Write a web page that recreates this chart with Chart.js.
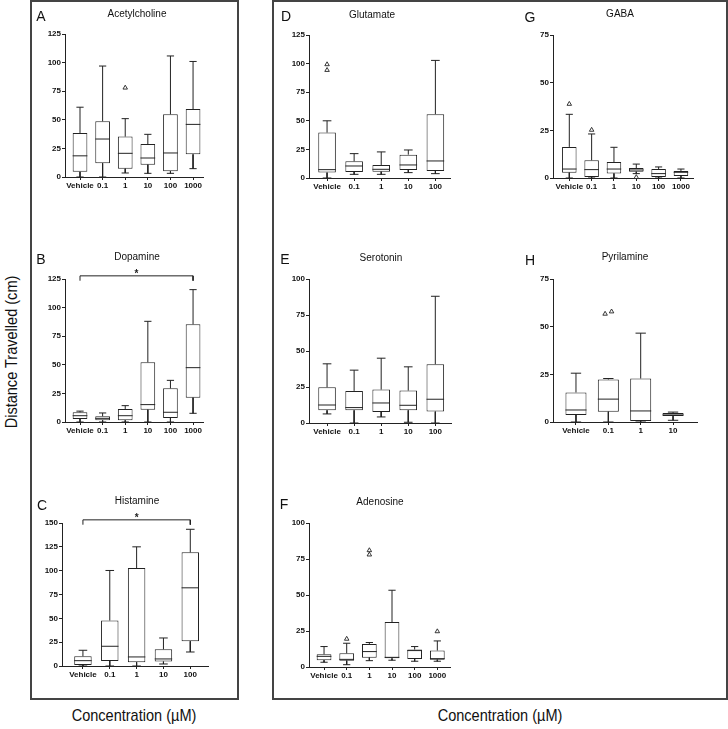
<!DOCTYPE html>
<html>
<head>
<meta charset="utf-8">
<style>
  body { margin: 0; background: #fff; width: 728px; height: 729px; position: relative; overflow: hidden;
         font-family: "Liberation Sans", Arial, sans-serif; color: #111; }
  .frame { position: absolute; border: 2px solid #444; box-sizing: border-box; }
  .lbl { position: absolute; transform: translate(-50%, -50%); white-space: nowrap; }
  .letter { font-size: 14px; }
  .title { font-size: 10px; }
  .big { font-size: 17px; }
  canvas { position: absolute; }
</style>
<script src="https://cdn.jsdelivr.net/npm/chart.js"></script>
</head>
<body>

<div class="frame" style="left:30px; top:0; width:209px; height:700px;"></div>
<div class="frame" style="left:272px; top:0; width:456px; height:700px;"></div>

<!-- narrow look: the condensed face is not installed, so squeeze a little -->
<div class="lbl big" style="left:134px; top:716px; transform: translate(-50%, -50%) scaleX(0.855);">Concentration (µM)</div>
<div class="lbl big" style="left:500px; top:716px; transform: translate(-50%, -50%) scaleX(0.855);">Concentration (µM)</div>
<div class="lbl big" style="left:12px; top:352px; transform: translate(-50%, -50%) rotate(-90deg) scaleX(0.855);">Distance Travelled (cm)</div>

<script>
// categories
const cats6 = ['Vehicle', '0.1', '1', '10', '100', '1000'];
const cats5 = ['Vehicle', '0.1', '1', '10', '100'];
const cats4 = ['Vehicle', '0.1', '1', '10'];

// A - Acetylcholine
const aMin = [0, 0, 3.5, 3.2, 3.2, 7.3];
const aQ1  = [4.5, 12, 7.3, 10.8, 5, 19.8];
const aMed = [18.5, 33.2, 20.7, 16.6, 21, 46];
const aQ3  = [38.5, 48.7, 35.3, 28.8, 54.8, 59.4];
const aMax = [61, 97, 51, 37.3, 105.8, 101];
const aOut = [[], [], [78], [], [], []];

// B - Dopamine
const bMin = [0, 0, 0, 0, 0, 7.6];
const bQ1  = [2.6, 1.5, 1.5, 10.8, 3.5, 21.3];
const bMed = [5.5, 3.2, 5.5, 15.2, 8.5, 47.5];
const bQ3  = [8.5, 5, 11.4, 52.2, 29.4, 85.4];
const bMax = [9.5, 7.9, 14.3, 88, 36.4, 115.7];
const bOut = [[], [], [], [], [], []];

// C - Histamine
const cMin = [0, 0, 0, 2.1, 14.7];
const cQ1  = [1, 5.3, 3.9, 4.6, 26];
const cMed = [5.6, 20.7, 9.5, 7.4, 82];
const cQ3  = [10.2, 47.7, 102.7, 17.5, 119.2];
const cMax = [16.5, 100.2, 125, 29.4, 143.4];
const cOut = [[], [], [], [], []];

// D - Glutamate
const dMin = [0, 3.2, 3.2, 4.7, 3.8];
const dQ1  = [4.7, 5.3, 5.5, 7, 6.1];
const dMed = [7.3, 10.5, 7.6, 11.4, 14.9];
const dQ3  = [39.7, 14.6, 11.4, 20.4, 55.8];
const dMax = [50, 21.3, 22.8, 24.5, 102.8];
const dOut = [[99.3, 94.3], [], [], [], []];

// E - Serotonin
const eMin = [6.3, 0, 4.2, 0.5, 0];
const eQ1  = [8.8, 8.8, 7.7, 8.8, 7.9];
const eMed = [12.5, 10.7, 13.9, 12.3, 16.5];
const eQ3  = [24.8, 22.3, 23.2, 22.5, 40.8];
const eMax = [41.1, 36.7, 45, 39, 88];
const eOut = [[], [], [], [], []];

// F - Adenosine
const fMin = [3.3, 1.6, 4.4, 4.7, 4, 4];
const fQ1  = [4.7, 4.4, 6.5, 6, 5.6, 5.1];
const fMed = [7.4, 5.3, 10.7, 6.7, 11.4, 5.8];
const fQ3  = [8.8, 9.5, 16, 31.2, 12.1, 11.4];
const fMax = [14.2, 16.5, 17, 53.3, 14.2, 18.1];
const fOut = [[], [19.5], [81, 78], [], [], [24.7]];

// G - GABA
const gMin = [0, 0, 0, 2.3, 0, 0];
const gQ1  = [2.8, 0.5, 2.4, 3.3, 0.5, 1];
const gMed = [4.7, 4.4, 4.7, 4.2, 2.3, 3];
const gQ3  = [16.3, 9.3, 8.4, 5.2, 4.7, 3.7];
const gMax = [33.4, 23.1, 16.1, 7.3, 5.8, 4.7];
const gOut = [[38.8], [25.2], [], [0.4], [], []];

// H - Pyrilamine
const hMin = [0, 0, 0, 0.9];
const hQ1  = [3.7, 5.4, 0.5, 3.1];
const hMed = [6.3, 12, 5.8, 3.7];
const hQ3  = [15.5, 22.3, 22.8, 4.7];
const hMax = [25.6, 22.8, 46.6, 5.2];
const hOut = [[], [56.7, 57.9], [], []];

const panels = [
  { letter: 'A', title: 'Acetylcholine', cats: cats6, min: aMin, q1: aQ1, med: aMed, q3: aQ3, max: aMax, out: aOut,
    area: [65, 34, 203, 177], xr: [-0.664, 5.44], yMax: 125, step: 25, titleAt: [137, 13], letterAt: [41, 16] },
  { letter: 'B', title: 'Dopamine', cats: cats6, min: bMin, q1: bQ1, med: bMed, q3: bQ3, max: bMax, out: bOut,
    area: [65, 279, 203, 422], xr: [-0.664, 5.44], yMax: 125, step: 25, titleAt: [137, 256], letterAt: [41, 259], sig: [0, 5] },
  { letter: 'C', title: 'Histamine', cats: cats5, min: cMin, q1: cQ1, med: cMed, q3: cQ3, max: cMax, out: cOut,
    area: [62, 523, 208, 666], xr: [-0.78, 4.66], yMax: 150, step: 25, titleAt: [137, 500], letterAt: [42, 505], sig: [0, 4] },
  { letter: 'D', title: 'Glutamate', cats: cats5, min: dMin, q1: dQ1, med: dMed, q3: dQ3, max: dMax, out: dOut,
    area: [309, 35, 450, 178], xr: [-0.667, 4.54], yMax: 125, step: 25, titleAt: [372, 14], letterAt: [286, 16] },
  { letter: 'E', title: 'Serotonin', cats: cats5, min: eMin, q1: eQ1, med: eMed, q3: eQ3, max: eMax, out: eOut,
    area: [309, 279, 451, 423], xr: [-0.667, 4.58], yMax: 100, step: 25, titleAt: [381, 257], letterAt: [285, 259] },
  { letter: 'F', title: 'Adenosine', cats: cats6, min: fMin, q1: fQ1, med: fMed, q3: fQ3, max: fMax, out: fOut,
    area: [309, 523, 450, 667], xr: [-0.664, 5.56], yMax: 100, step: 25, titleAt: [380, 501], letterAt: [284, 504] },
  { letter: 'G', title: 'GABA', cats: cats6, min: gMin, q1: gQ1, med: gMed, q3: gQ3, max: gMax, out: gOut,
    area: [553, 35, 693, 178], xr: [-0.73, 5.54], yMax: 75, step: 25, titleAt: [620, 13], letterAt: [530, 17] },
  { letter: 'H', title: 'Pyrilamine', cats: cats4, min: hMin, q1: hQ1, med: hMed, q3: hQ3, max: hMax, out: hOut,
    area: [553, 279, 697, 422], xr: [-0.71, 3.74], yMax: 75, step: 25, titleAt: [625, 256], letterAt: [530, 260] }
];

const ink = '#222';
const tickFont = { family: '"Liberation Sans", Arial, sans-serif', size: 8, weight: 'bold' };
const half = 0.325, cap = 0.16;

function addLabel(cls, text, at) {
  const d = document.createElement('div');
  d.className = 'lbl ' + cls;
  d.textContent = text;
  d.style.left = at[0] + 'px';
  d.style.top = at[1] + 'px';
  document.body.appendChild(d);
}

// significance bracket star
const starPlugin = {
  id: 'star',
  afterDatasetsDraw(chart, args, opts) {
    if (!opts.sig) return;
    const { x, y } = chart.scales;
    const ctx = chart.ctx;
    ctx.save();
    ctx.fillStyle = ink;
    ctx.font = 'bold 10px "Liberation Sans", Arial';
    ctx.textAlign = 'center';
    ctx.fillText('*', x.getPixelForValue((opts.sig[0] + opts.sig[1]) / 2), y.getPixelForValue(opts.yMax * 1.053) + 5.5);
    ctx.restore();
  }
};

function boxChart(p) {
  const [l, t, r, b] = p.area;
  const W = r - l + 52, H = b - t + 37;
  const cv = document.createElement('canvas');
  cv.width = W; cv.height = H;
  cv.style.left = (l - 40) + 'px';
  cv.style.top = (t - 15) + 'px';
  cv.style.width = W + 'px';
  cv.style.height = H + 'px';
  document.body.appendChild(cv);

  const lines = [];
  const gap = i => ({ x: i, y: null });
  p.cats.forEach((c, i) => {
    lines.push(
      { x: i, y: p.q3[i] }, { x: i, y: p.max[i] }, gap(i),
      { x: i - cap, y: p.max[i] }, { x: i + cap, y: p.max[i] }, gap(i),
      { x: i, y: p.q1[i] }, { x: i, y: p.min[i] }, gap(i),
      { x: i - cap, y: p.min[i] }, { x: i + cap, y: p.min[i] }, gap(i),
      { x: i - half, y: p.med[i] }, { x: i + half, y: p.med[i] }, gap(i)
    );
  });

  const outliers = [];
  p.out.forEach((vals, i) => {
    const close = vals.length === 2 && Math.abs(vals[0] - vals[1]) / p.yMax * 143 < 4;
    vals.forEach((v, k) => outliers.push({ x: close ? i + (k === 0 ? -0.1 : 0.1) : i, y: v }));
  });

  const datasets = [
    { type: 'line', data: outliers, showLine: false, pointStyle: 'triangle', pointRadius: 2.6,
      pointBackgroundColor: '#fff', pointBorderColor: ink, pointBorderWidth: 0.9, clip: false, order: 0 },
    { type: 'line', data: lines, spanGaps: false, borderColor: ink, borderWidth: 1, pointRadius: 0, order: 1 },
    { type: 'bar', data: p.cats.map((c, i) => ({ x: i, y: [p.q1[i], p.q3[i]] })),
      backgroundColor: '#fff', borderColor: ink, borderWidth: 1, borderSkipped: false,
      barPercentage: 0.65, categoryPercentage: 1, order: 3 }
  ];
  if (p.sig) {
    const top = p.yMax * 1.022, end = p.yMax * 0.988;
    datasets.push({ type: 'line', data: [
      { x: p.sig[0], y: end }, { x: p.sig[0], y: top }, { x: p.sig[1], y: top }, { x: p.sig[1], y: end }
    ], borderColor: ink, borderWidth: 1, pointRadius: 0, clip: false, order: 2 });
  }

  new Chart(cv, {
    type: 'bar',
    data: { datasets },
    options: {
      responsive: false,
      animation: false,
      devicePixelRatio: 1,
      events: [],
      layout: { padding: { left: 0, right: 12, top: 15, bottom: 0 } },
      plugins: { legend: { display: false }, tooltip: { enabled: false }, star: { sig: p.sig, yMax: p.yMax } },
      scales: {
        x: {
          type: 'linear', min: p.xr[0], max: p.xr[1], offset: false,
          afterBuildTicks: s => { s.ticks = p.cats.map((c, i) => ({ value: i })); },
          afterFit: s => { s.height = 22; },
          ticks: { callback: v => p.cats[v], font: tickFont, color: '#111', padding: 1, maxRotation: 0, autoSkip: false },
          grid: { drawOnChartArea: false, tickLength: 3, color: ink, offset: false },
          border: { color: ink, width: 1 }
        },
        y: {
          min: 0, max: p.yMax,
          afterFit: s => { s.width = 40; },
          ticks: { stepSize: p.step, font: tickFont, color: '#111', padding: 1 },
          grid: { drawOnChartArea: false, tickLength: 3, color: ink },
          border: { color: ink, width: 1 }
        }
      }
    },
    plugins: [starPlugin]
  });

  addLabel('letter', p.letter, p.letterAt);
  addLabel('title', p.title, p.titleAt);
}

panels.forEach(boxChart);
</script>
</body>
</html>
